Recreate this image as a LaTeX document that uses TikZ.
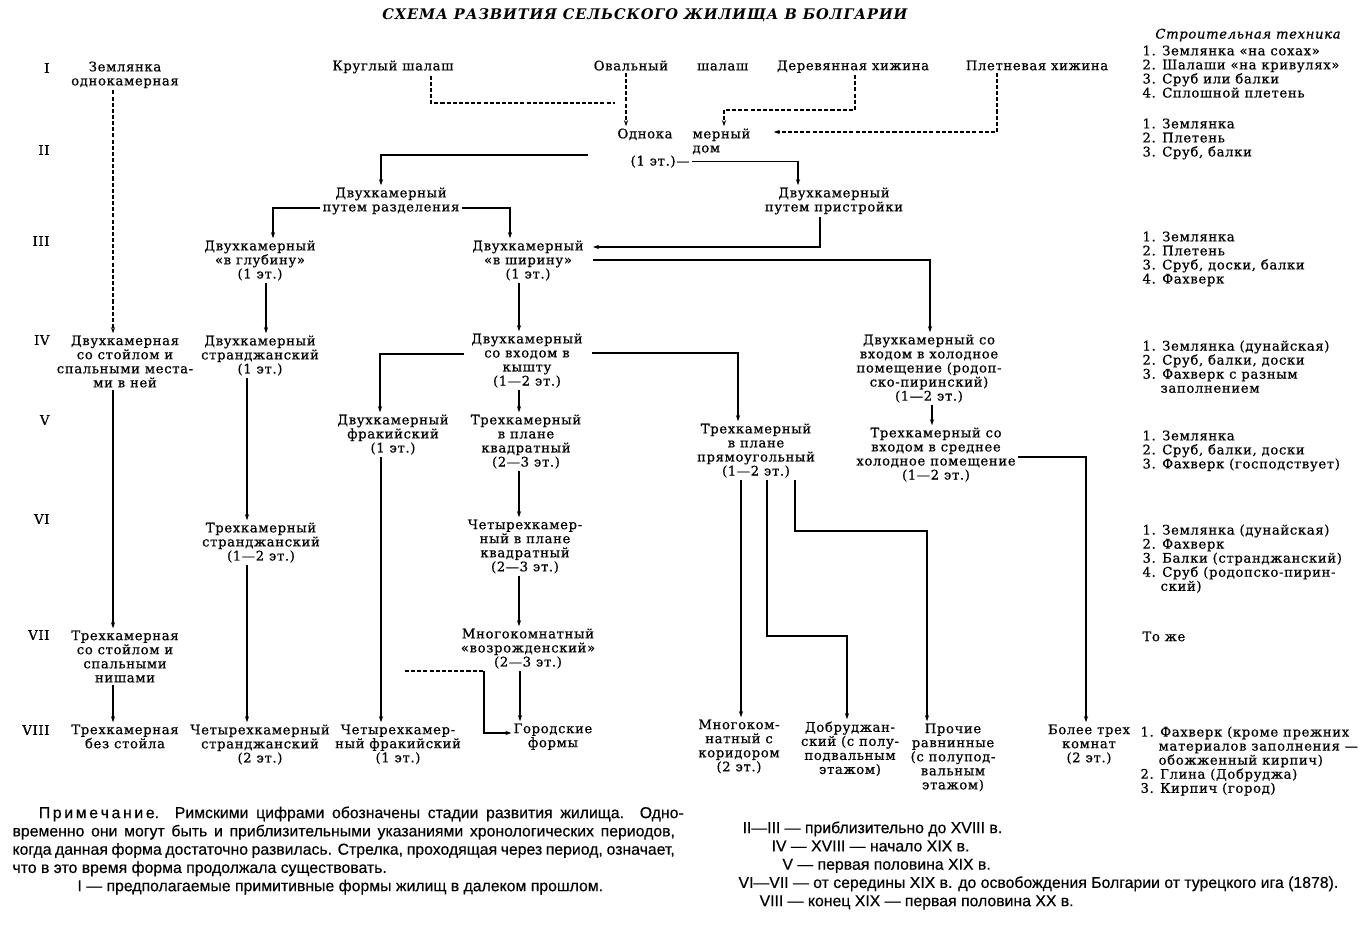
\documentclass[tikz,border=0pt]{standalone}
\usepackage{fontspec}
\setmainfont{DejaVu Serif}[LetterSpace=5, FakeBold=0.6]
\newfontfamily\notefont{Liberation Sans}[FakeBold=0.4]
\newfontfamily\titlefont{DejaVu Serif}[LetterSpace=6]
\usetikzlibrary{arrows.meta}

\tikzset{
  box/.style={align=center, inner sep=0pt, anchor=north, font=\fontsize{7.5}{8}\selectfont},
  lst/.style={align=left, inner sep=0pt, anchor=north west, font=\fontsize{7.5}{8}\selectfont},
  stage/.style={inner sep=0pt, anchor=east, font=\fontsize{7.5}{8}\selectfont},
  note/.style={align=left, inner sep=0pt, anchor=north west, font=\notefont\fontsize{9}{10.4}\selectfont},
  dsh/.style={dash pattern=on 2.3pt off 1.2pt},
  link/.style={->, shorten <=1pt, shorten >=1pt},
}

\begin{document}
\begin{tikzpicture}[x=0.02cm, y=-0.02cm, >={Stealth[length=3.5pt,width=2.4pt]}, line width=0.6pt]
            \fill[white] (0,0) rectangle (1362,925);
            \useasboundingbox (0,0) rectangle (1362,925);
            % Title
            \node[inner sep=0pt] (title) at (645,15) {\titlefont\fontsize{8.3}{9}\selectfont\bfseries\itshape СХЕМА РАЗВИТИЯ СЕЛЬСКОГО ЖИЛИЩА В БОЛГАРИИ};
            % Stages
            \node[stage] (st1) at (50,68) {I};
            \node[stage] (st2) at (50,150) {II};
            \node[stage] (st3) at (50,241) {III};
            \node[stage] (st4) at (50,340) {IV};
            \node[stage] (st5) at (50,420) {V};
            \node[stage] (st6) at (50,519) {VI};
            \node[stage] (st7) at (50,635) {VII};
            \node[stage] (st8) at (50,730) {VIII};
            % Stage I
            \node[box] (zeml1) at (125,61) {Землянка\\однокамерная};
            \node[box] (krug) at (393,60) {Круглый шалаш};
            \node[box] (oval) at (671,60) {Овальный\hspace{2.2em}шалаш};
            \node[box] (derev) at (853,60) {Деревянная хижина};
            \node[box] (plet) at (1037,60) {Плетневая хижина};
            % Stage II
            \node[box] (odn1) at (645,128) {Однока};
            \node[lst] (odn2) at (692,128) {мерный\\дом};
            \node[box, anchor=north east] (odn3) at (690,155) {(1 эт.)—};
            \node[box] (razd) at (391,187) {Двухкамерный\\путем разделения};
            \node[box] (prist) at (834,187) {Двухкамерный\\путем пристройки};
            % Stage III
            \node[box] (glub) at (260,240) {Двухкамерный\\«в глубину»\\(1 эт.)};
            \node[box] (shir) at (528,240) {Двухкамерный\\«в ширину»\\(1 эт.)};
            % Stage IV
            \node[box] (stoil) at (125,335) {Двухкамерная\\со стойлом и\\спальными места-\\ми в ней};
            \node[box] (strand1) at (260,335) {Двухкамерный\\странджанский\\(1 эт.)};
            \node[box] (kyshta) at (527,333) {Двухкамерный\\со входом в\\кышту\\(1—2 эт.)};
            \node[box] (rodop) at (929,334) {Двухкамерный со\\входом в холодное\\помещение (родоп-\\ско-пиринский)\\(1—2 эт.)};
            % Stage V
            \node[box] (frak1) at (393,414) {Двухкамерный\\фракийский\\(1 эт.)};
            \node[box] (kvadr1) at (526,414) {Трехкамерный\\в плане\\квадратный\\(2—3 эт.)};
            \node[box] (pryam) at (756,423) {Трехкамерный\\в плане\\прямоугольный\\(1—2 эт.)};
            \node[box] (sredn) at (936,427) {Трехкамерный со\\входом в среднее\\холодное помещение\\(1—2 эт.)};
            % Stage VI
            \node[box] (strand2) at (261,522) {Трехкамерный\\странджанский\\(1—2 эт.)};
            \node[box] (chetyr) at (525,519) {Четырехкамер-\\ный в плане\\квадратный\\(2—3 эт.)};
            % Stage VII
            \node[box] (stoil3) at (125,630) {Трехкамерная\\со стойлом и\\спальными\\нишами};
            \node[box] (vozr) at (528,628) {Многокомнатный\\«возрожденский»\\(2—3 эт.)};
            % Stage VIII
            \node[box] (bez) at (125,724) {Трехкамерная\\без стойла};
            \node[box] (strand3) at (260,724) {Четырехкамерный\\странджанский\\(2 эт.)};
            \node[box] (frak2) at (398,724) {Четырехкамер-\\ный фракийский\\(1 эт.)};
            \node[box] (gorod) at (553,723) {Городские\\формы};
            \node[box] (mnogo) at (739,719) {Многоком-\\натный с\\коридором\\(2 эт.)};
            \node[box] (dobr) at (850,721) {Добруджан-\\ский (с полу-\\подвальным\\этажом)};
            \node[box] (prochie) at (953,723) {Прочие\\равнинные\\(с полупод-\\вальным\\этажом)};
            \node[box] (bolee) at (1089,724) {Более трех\\комнат\\(2 эт.)};
            % Building technique
            \node[box, anchor=center, font=\fontsize{7.5}{8}\selectfont\itshape] (tech0) at (1248,35) {Строительная техника};
            \node[lst] (tech1) at (1142,45) {1. Землянка «на сохах»\\2. Шалаши «на кривулях»\\3. Сруб или балки\\4. Сплошной плетень};
            \node[lst] (tech2) at (1142,118) {1. Землянка\\2. Плетень\\3. Сруб, балки};
            \node[lst] (tech3) at (1142,231) {1. Землянка\\2. Плетень\\3. Сруб, доски, балки\\4. Фахверк};
            \node[lst] (tech4) at (1142,340) {1. Землянка (дунайская)\\2. Сруб, балки, доски\\3. Фахверк с разным\\\hphantom{3.~}заполнением};
            \node[lst] (tech5) at (1142,430) {1. Землянка\\2. Сруб, балки, доски\\3. Фахверк (господствует)};
            \node[lst] (tech6) at (1142,524) {1. Землянка (дунайская)\\2. Фахверк\\3. Балки (странджанский)\\4. Сруб (родопско-пирин-\\\hphantom{4.~}ский)};
            \node[lst] (tech7) at (1142,631) {То же};
            \node[lst] (tech8) at (1140,726) {1. Фахверк (кроме прежних\\\hphantom{1.~}материалов заполнения —\\\hphantom{1.~}обожженный кирпич)\\2. Глина (Добруджа)\\3. Кирпич (город)};
            % Free ends
            \coordinate (krugend) at (615,103);
            \coordinate (pletend) at (772,132);
            \coordinate (splitpt) at (590,155);
            \coordinate (frakdash) at (405,671);
            % Dashed origins
            \draw[link, dsh] (zeml1.south -| 113,0) -- (stoil.north -| 113,0);
            \draw[dsh, shorten <=1pt] (krug.south -| 431,0) |- (krugend);
            \draw[link, dsh] (oval.south -| 626,0) -- (odn1.north -| 626,0);
            \draw[link, dsh] (derev.south -| 855,0) |- (724,110) -- (odn2.north -| 724,0);
            \draw[link, dsh] (plet.south -| 997,0) |- (pletend);
            % Stage II -> III
            \draw[link] (splitpt) -| (razd.north -| 381,0);
            \draw[link] (odn3.east) -| (prist.north -| 798,0);
            \draw[link] (razd.west |- 0,208) -| (glub.north -| 273,0);
            \draw[link] (razd.east |- 0,208) -| (shir.north -| 510,0);
            \draw[link, shorten >=5pt] (prist.south -| 820,0) |- (shir.east |- 0,247);
            % Stage III -> IV
            \draw[link, shorten <=5pt] (shir.east |- 0,260) -| (rodop.north -| 930,0);
            \draw[link] (shir.south -| 519,0) -- (kyshta.north -| 519,0);
            \draw[link] (glub.south -| 266,0) -- (strand1.north -| 266,0);
            % Stage IV -> V
            \draw[link] (stoil.south -| 113,0) -- (stoil3.north -| 113,0);
            \draw[link] (strand1.south -| 247,0) -- (strand2.north -| 247,0);
            \draw[link, shorten <=4pt] (kyshta.west |- 0,354) -| (frak1.north -| 380,0);
            \draw[link, shorten <=5pt] (kyshta.east |- 0,353) -| (pryam.north -| 738,0);
            \draw[link] (kyshta.south -| 519,0) -- (kvadr1.north -| 519,0);
            \draw[link] (rodop.south -| 932,0) -- (sredn.north -| 932,0);
            % Stage V -> VIII
            \draw[link] (sredn.east |- 0,457) -| (bolee.north -| 1086,0);
            \draw[link] (frak1.south -| 381,0) -- (frak2.north -| 381,0);
            \draw[link] (kvadr1.south -| 519,0) -- (chetyr.north -| 519,0);
            \draw[link] (pryam.south -| 741,0) -- (mnogo.north -| 741,0);
            \draw[link] (pryam.south -| 767,0) |- (847,636) -- (dobr.north -| 847,0);
            \draw[link] (pryam.south -| 795,0) |- (927,531) -- (prochie.north -| 927,0);
            % Stage VI -> VIII
            \draw[link] (strand2.south -| 247,0) -- (strand3.north -| 247,0);
            \draw[link] (chetyr.south -| 519,0) -- (vozr.north -| 519,0);
            \draw[link] (stoil3.south -| 113,0) -- (bez.north -| 113,0);
            \draw[link] (vozr.south -| 520,0) -- (gorod.north -| 520,0);
            \draw[dsh] (frakdash) -- (484,671);
            \draw[link, shorten <=0pt] (484,671) |- (gorod.west |- 0,733);
            % Notes
            \node[note] (prim) at (12,806) {\hspace*{15pt}\makebox[367pt][s]{П\,р\,и\,м\,е\,ч\,а\,н\,и\,е. Римскими цифрами обозначены стадии развития жилища. Одно-}\\
              \makebox[377pt][s]{временно они могут быть и приблизительными указаниями хронологических периодов,}\\
              \makebox[377pt][s]{когда данная форма достаточно развилась. Стрелка, проходящая через период, означает,}\\
              что в это время форма продолжала существовать.\\
              \hspace*{37pt}I — предполагаемые примитивные формы жилищ в далеком прошлом.};
            \node[note] (periods) at (738,821) {\hspace*{2.3pt}II—III — приблизительно до XVIII в.\\
              \hspace*{18.8pt}IV — XVIII — начало XIX в.\\
              \hspace*{25pt}V — первая половина XIX в.\\
              VI—VII — от середины XIX в. до освобождения Болгарии от турецкого ига (1878).\\
              \hspace*{12pt}VIII — конец XIX — первая половина XX в.};
        \end{tikzpicture}
\end{document}
